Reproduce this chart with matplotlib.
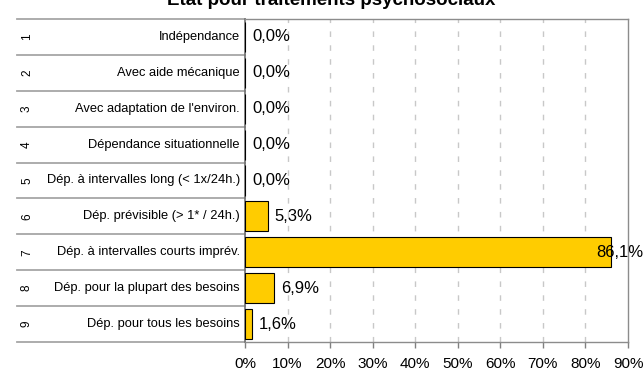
import matplotlib
matplotlib.use("Agg")
import matplotlib.pyplot as plt
import matplotlib.transforms as mtransforms

plt.rcParams["font.family"] = ["Liberation Sans", "DejaVu Sans"]

# ---------- données ----------
row_numbers = ["1", "2", "3", "4", "5", "6", "7", "8", "9"]
categories = [
    "Indépendance",
    "Avec aide mécanique",
    "Avec adaptation de l'environ.",
    "Dépendance situationnelle",
    "Dép. à intervalles long (< 1x/24h.)",
    "Dép. prévisible (> 1* / 24h.)",
    "Dép. à intervalles courts imprév.",
    "Dép. pour la plupart des besoins",
    "Dép. pour tous les besoins",
]
percentages = [0.0, 0.0, 0.0, 0.0, 0.0, 5.3, 86.1, 6.9, 1.6]
x_ticks = [0, 10, 20, 30, 40, 50, 60, 70, 80, 90]
title = "Etat pour traitements psychosociaux"

W, H = 643, 370
fig = plt.figure(figsize=(W / 100, H / 100), dpi=100)
ax = fig.add_axes([245 / W, 28 / H, (628 - 245) / W, (342 - 19) / H])

y = list(range(len(categories)))
ax.barh(y, percentages, height=0.84, color="#FFCC00", edgecolor="black",
        linewidth=0.8, zorder=3)

ax.set_xlim(0, 90)
ax.set_ylim(len(categories) - 0.5, -0.5)
ax.set_xticks(x_ticks)
ax.set_xticklabels([f"{t}%" for t in x_ticks], fontsize=11)
ax.set_yticks([])
ax.tick_params(axis="x", direction="out", length=4, width=1, color="#808080", pad=7)

# grille verticale pointillée
for t in x_ticks[1:-1]:
    ax.axvline(t, color="#c8c8c8", linewidth=1, linestyle=(0, (4, 6)), zorder=1)

for side in ["top", "right", "bottom"]:
    ax.spines[side].set_color("#8c8c8c")
    ax.spines[side].set_linewidth(1)
ax.spines["left"].set_color("#707070")
ax.spines["left"].set_linewidth(1.2)

# étiquettes de valeur
fig_y = mtransforms.blended_transform_factory(fig.transFigure, ax.transData)
for yi, v in zip(y, percentages):
    label = f"{v:.1f}%".replace(".", ",")
    if v > 80:
        ax.text(1.0, yi, label, transform=fig_y, ha="right", va="center",
                fontsize=12, zorder=4)
    else:
        ax.annotate(label, xy=(v, yi), xytext=(5, 0), textcoords="offset points",
                    ha="left", va="center", fontsize=12, zorder=4)

# tableau des catégories à gauche
for k in range(len(categories) + 1):
    ax.plot([17 / W, 245 / W], [k - 0.5, k - 0.5], transform=fig_y,
            color="#a6a6a6", linewidth=1.3, clip_on=False, zorder=2)
for yi, num, cat in zip(y, row_numbers, categories):
    ax.text(27 / W, yi, num, transform=fig_y, rotation=90, ha="center",
            va="center", fontsize=8.5)
    ax.text(240 / W, yi, cat, transform=fig_y, ha="right", va="center",
            fontsize=9.3)

fig.text(331 / W, 1 - 5 / H, title, ha="center", va="baseline",
         fontsize=13.5, fontweight="bold")

fig.savefig("out.png", dpi=100)
